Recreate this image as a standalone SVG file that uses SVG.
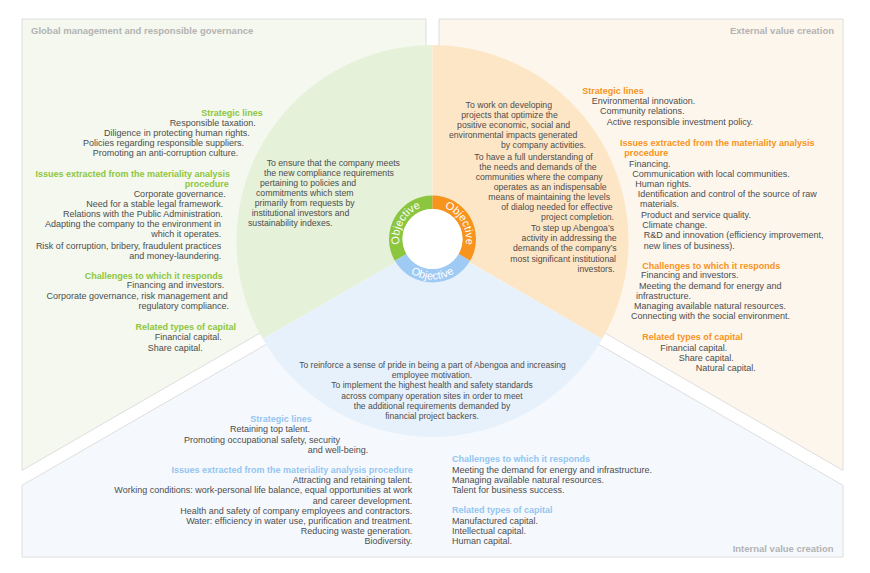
<svg xmlns="http://www.w3.org/2000/svg" width="870" height="573" viewBox="0 0 870 573">
<style>
text{font-family:"Liberation Sans",Arial,sans-serif;font-size:9px;fill:#4d4d4d}
.h{font-weight:bold}
.g{fill:#8dc63f}
.o{fill:#f7941d}
.b{fill:#93c5f0}
.ttl{font-weight:bold;font-size:9.5px;fill:#b3b3b3}
.e{text-anchor:end}
.m{text-anchor:middle}
.c{font-size:8.7px}
.cb{font-size:8.5px}
.ring{font-size:11px;fill:#fff;text-anchor:middle}
.panel{stroke:#dedede;stroke-width:1}
</style>
<defs>
<path id="pg" d="M403.49 255.75 A33.5 33.5 0 0 1 432.5 205.5"/>
<path id="po" d="M432.5 205.5 A33.5 33.5 0 0 1 461.51 255.75"/>
<path id="pb" d="M397.43 259.25 A40.5 40.5 0 0 0 467.57 259.25"/>
</defs>
<rect width="870" height="573" fill="#fff"/>
<g id="panels">
<polygon class="panel" fill="#f4f8ee" points="22,19 426,19 426,237.2 22,470.4"/>
<polygon class="panel" fill="#fdf6ec" points="439,19 843,19 843,470.4 439,237.2"/>
<polygon class="panel" fill="#f5f9fe" points="22,485.4 432.5,248.5 843,485.4 843,557 22,557"/>
</g>
<g id="circle">
<path fill="#e6f1da" d="M432.5 241 L432.5 45 A196 196 0 0 0 262.76 339 Z"/>
<path fill="#fde6c6" d="M432.5 241 L432.5 45 A196 196 0 0 1 602.24 339 Z"/>
<path fill="#e7f1fc" d="M432.5 241 L262.76 339 A196 196 0 0 0 602.24 339 Z"/>
</g>
<g id="ring">
<path fill="#8cc63f" d="M432.5 195.5 A43.5 43.5 0 0 0 394.83 260.75 L406.52 254 A30 30 0 0 1 432.5 209 Z"/>
<path fill="#f7941d" d="M432.5 195.5 A43.5 43.5 0 0 1 470.17 260.75 L458.48 254 A30 30 0 0 0 432.5 209 Z"/>
<path fill="#9fcaf4" d="M394.83 260.75 A43.5 43.5 0 0 0 470.17 260.75 L458.48 254 A30 30 0 0 1 406.52 254 Z"/>
<circle cx="432.5" cy="239" r="30" fill="#fff"/>
<text class="ring"><textPath href="#pg" startOffset="50%">Objective</textPath></text>
<text class="ring"><textPath href="#po" startOffset="50%">Objective</textPath></text>
<text class="ring"><textPath href="#pb" startOffset="50%">Objective</textPath></text>
</g>
<g id="governance">
<text class="ttl" x="31" y="33.5">Global management and responsible governance</text>
<text class="h g e" x="262.7" y="116">Strategic lines</text>
<text class="e" x="255.7" y="126">Responsible taxation.</text>
<text class="e" x="249.7" y="136">Diligence in protecting human rights.</text>
<text class="e" x="244" y="146">Policies regarding responsible suppliers.</text>
<text class="e" x="238.3" y="156">Promoting an anti-corruption culture.</text>
<text class="h g e" x="230" y="177">Issues extracted from the materiality analysis</text>
<text class="h g e" x="228.7" y="187">procedure</text>
<text class="e" x="225.7" y="197">Corporate governance.</text>
<text class="e" x="223.3" y="207">Need for a stable legal framework.</text>
<text class="e" x="222.7" y="217">Relations with the Public Administration.</text>
<text class="e" x="221" y="227">Adapting the company to the environment in</text>
<text class="e" x="221.3" y="237">which it operates.</text>
<text class="e" x="221.3" y="248.5">Risk of corruption, bribery, fraudulent practices</text>
<text class="e" x="221.3" y="258.5">and money-laundering.</text>
<text class="h g e" x="222.7" y="279">Challenges to which it responds</text>
<text class="e" x="224.3" y="288">Financing and investors.</text>
<text class="e" x="227.7" y="299">Corporate governance, risk management and</text>
<text class="e" x="229" y="309">regulatory compliance.</text>
<text class="h g e" x="236" y="330">Related types of capital</text>
<text class="e" x="221.7" y="340">Financial capital.</text>
<text class="e" x="202.7" y="351">Share capital.</text>
<text class="c" x="266.7" y="166">To ensure that the company meets</text>
<text class="c" x="264" y="176">the new compliance requirements</text>
<text class="c" x="260" y="186">pertaining to policies and</text>
<text class="c" x="256" y="196">commitments which stem</text>
<text class="c" x="254.7" y="206">primarily from requests by</text>
<text class="c" x="251.7" y="216">institutional investors and</text>
<text class="c" x="248" y="226">sustainability indexes.</text>
</g>
<g id="external">
<text class="ttl e" x="834" y="33.5">External value creation</text>
<text class="m c" x="508.8" y="108.3">To work on developing</text>
<text class="m c" x="509.5" y="118.3">projects that optimize the</text>
<text class="m c" x="513.6" y="128.3">positive economic, social and</text>
<text class="m c" x="513.2" y="138.3">environmental impacts generated</text>
<text class="e c" x="586" y="148.3">by company activities.</text>
<text class="e c" x="592.7" y="160">To have a full understanding of</text>
<text class="e c" x="596.7" y="170">the needs and demands of the</text>
<text class="e c" x="602.7" y="180">communities where the company</text>
<text class="e c" x="606.7" y="190">operates as an indispensable</text>
<text class="e c" x="610" y="200">means of maintaining the levels</text>
<text class="e c" x="612.7" y="210">of dialog needed for effective</text>
<text class="e c" x="614" y="220">project completion.</text>
<text class="e c" x="614" y="230.7">To step up Abengoa’s</text>
<text class="e c" x="616.7" y="240.7">activity in addressing the</text>
<text class="e c" x="616.7" y="250.7">demands of the company’s</text>
<text class="e c" x="616" y="261.7">most significant institutional</text>
<text class="e c" x="614.7" y="271.7">investors.</text>
<text class="h o" x="582.3" y="94">Strategic lines</text>
<text x="591.7" y="104">Environmental innovation.</text>
<text x="600" y="114">Community relations.</text>
<text x="606.7" y="125">Active responsible investment policy.</text>
<text class="h o" x="620" y="146">Issues extracted from the materiality analysis</text>
<text class="h o" x="624.3" y="156">procedure</text>
<text x="629" y="166.5">Financing.</text>
<text x="632.3" y="176.5">Communication with local communities.</text>
<text x="635.3" y="186.5">Human rights.</text>
<text x="637.7" y="196.5">Identification and control of the source of raw</text>
<text x="640" y="206.5">materials.</text>
<text x="641" y="217.5">Product and service quality.</text>
<text x="642.3" y="227.5">Climate change.</text>
<text x="643.7" y="238.3">R&amp;D and innovation (efficiency improvement,</text>
<text x="643.7" y="248.5">new lines of business).</text>
<text class="h o" x="642.3" y="269">Challenges to which it responds</text>
<text x="641" y="278.3">Financing and investors.</text>
<text x="639" y="289">Meeting the demand for energy and</text>
<text x="636" y="299">infrastructure.</text>
<text x="634" y="309">Managing available natural resources.</text>
<text x="631" y="319.3">Connecting with the social environment.</text>
<text class="h o" x="642.3" y="340">Related types of capital</text>
<text x="660.3" y="350.6">Financial capital.</text>
<text x="678.7" y="360.6">Share capital.</text>
<text x="695.7" y="370.6">Natural capital.</text>
</g>
<g id="internal">
<text class="ttl e" x="833.5" y="552">Internal value creation</text>
<text class="m cb" x="432.5" y="368.3">To reinforce a sense of pride in being a part of Abengoa and increasing</text>
<text class="m cb" x="432" y="377.6">employee motivation.</text>
<text class="m cb" x="432" y="388.3">To implement the highest health and safety standards</text>
<text class="m cb" x="432" y="399.3">across company operation sites in order to meet</text>
<text class="m cb" x="432" y="409.3">the additional requirements demanded by</text>
<text class="m cb" x="432" y="419.3">financial project backers.</text>
<text class="h b e" x="311.7" y="422">Strategic lines</text>
<text class="e" x="310" y="432">Retaining top talent.</text>
<text class="e" x="340" y="442.5">Promoting occupational safety, security</text>
<text class="e" x="368.3" y="453">and well-being.</text>
<text class="h b e" x="412.7" y="472.6">Issues extracted from the materiality analysis procedure</text>
<text class="e" x="412.3" y="483.3">Attracting and retaining talent.</text>
<text class="e" x="412.3" y="493.3">Working conditions: work-personal life balance, equal opportunities at work</text>
<text class="e" x="412.3" y="503.6">and career development.</text>
<text class="e" x="412.3" y="513.6">Health and safety of company employees and contractors.</text>
<text class="e" x="412.3" y="523.6">Water: efficiency in water use, purification and treatment.</text>
<text class="e" x="412.3" y="534">Reducing waste generation.</text>
<text class="e" x="412.3" y="544">Biodiversity.</text>
<text class="h b" x="452" y="462">Challenges to which it responds</text>
<text x="452" y="472.6">Meeting the demand for energy and infrastructure.</text>
<text x="452" y="483.3">Managing available natural resources.</text>
<text x="452" y="493.3">Talent for business success.</text>
<text class="h b" x="452" y="513.3">Related types of capital</text>
<text x="452" y="524">Manufactured capital.</text>
<text x="452" y="534">Intellectual capital.</text>
<text x="452" y="544">Human capital.</text>
</g>
</svg>
